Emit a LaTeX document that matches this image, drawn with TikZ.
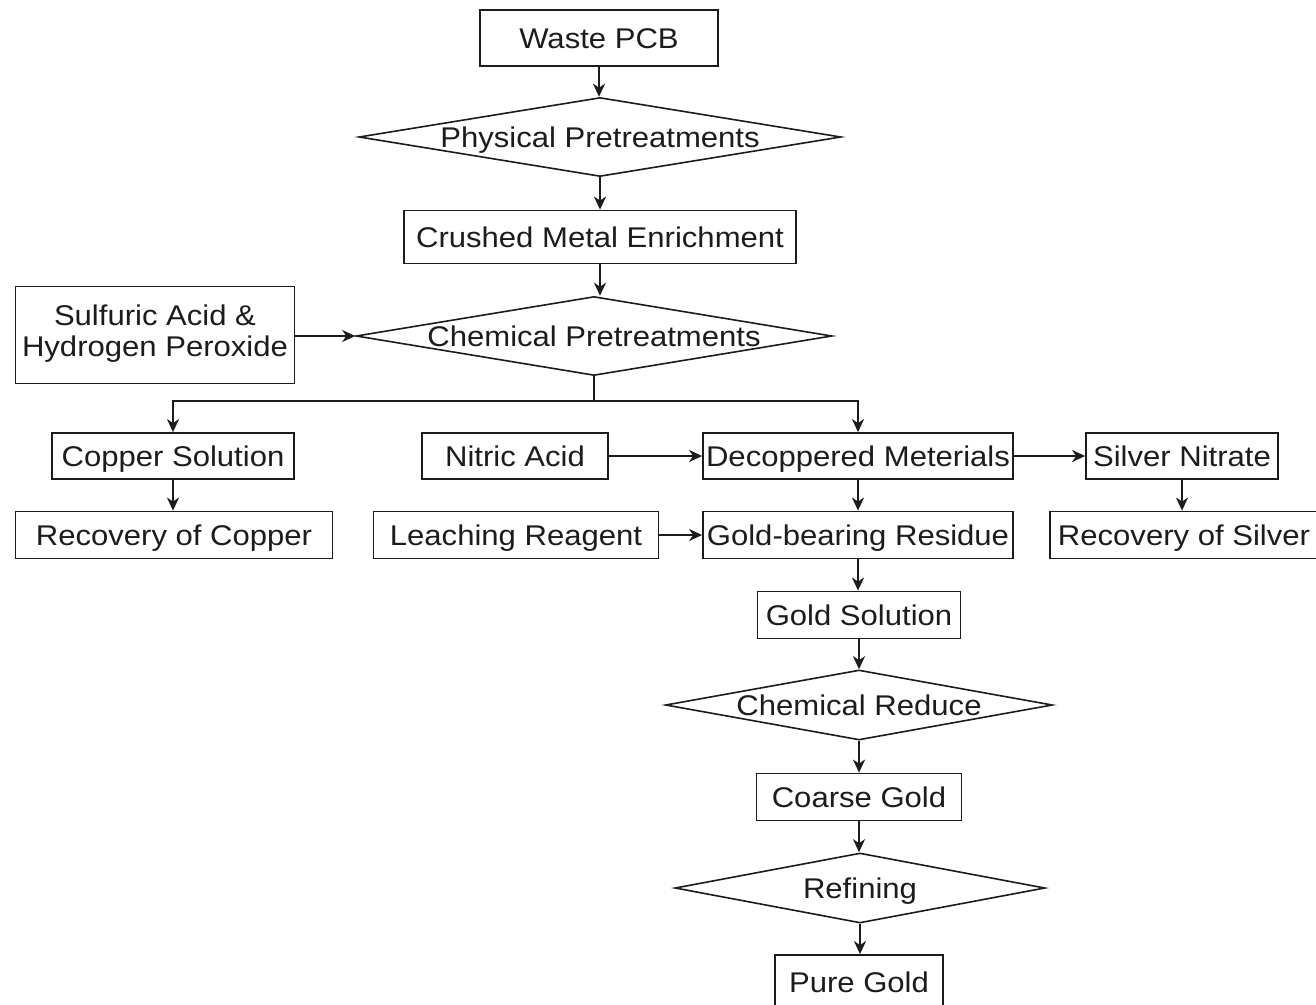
\documentclass[tikz,border=0pt]{standalone}
\usepackage{fontspec}
\setmainfont{Liberation Sans}[FakeStretch=1.09]
\usetikzlibrary{shapes.geometric,arrows.meta}
\definecolor{ink}{HTML}{1C1C1C}
\begin{document}
\begin{tikzpicture}[x=1pt,y=-1pt,
  every node/.style={text=ink},
  box/.style={draw=ink, line width=1.8pt, inner sep=0pt, align=center,
    font=\fontsize{28.5}{32}\selectfont},
  one/.style={text height=20pt, text depth=0pt},
  dia/.style={draw=ink, diamond, aspect=6, line width=1.6pt, inner sep=0pt,
    text height=20pt, text depth=0pt,
    font=\fontsize{28.5}{32}\selectfont},
  arr/.style={draw=ink, line width=1.8pt, -{Stealth[length=13pt,width=12pt,inset=4pt]}},
  con/.style={draw=ink, line width=1.8pt}]
\useasboundingbox (0,0) rectangle (1316,1004);
\fill[white] (0,0) rectangle (1316,1004);

\node[box, one, minimum width=238pt, minimum height=56pt] (waste) at (599,38) {Waste PCB};
\node[dia, minimum width=482pt, minimum height=79pt] (phys) at (600,137) {\makebox[0pt]{Physical Pretreatments}};
\node[box, one, minimum width=392pt, minimum height=53pt] (crush) at (600,237) {Crushed Metal Enrichment};
\node[dia, minimum width=476pt, minimum height=79pt] (chem) at (594,336) {\makebox[0pt]{Chemical Pretreatments}};
\node[box, minimum width=279pt, minimum height=97pt] (sulf) at (155,335) {\raisebox{-5pt}{\begin{tabular}{@{}c@{}}Sulfuric Acid \&\\[-1pt]Hydrogen Peroxide\end{tabular}}};

\node[box, one, minimum width=242pt, minimum height=46pt] (copper) at (173,456) {Copper Solution};
\node[box, one, minimum width=317pt, minimum height=47pt] (reccu) at (174,535) {Recovery of Copper};
\node[box, one, minimum width=186pt, minimum height=46pt] (nitric) at (515,456) {Nitric Acid};
\node[box, one, minimum width=310pt, minimum height=46pt] (decop) at (858,456) {Decoppered Meterials};
\node[box, one, minimum width=192pt, minimum height=46pt] (silver) at (1182,456) {Silver Nitrate};
\node[box, one, minimum width=285pt, minimum height=47pt] (leach) at (516,535) {Leaching Reagent};
\node[box, one, minimum width=310pt, minimum height=47pt] (residue) at (858,535) {Gold-bearing Residue};
\node[box, one, minimum width=268pt, minimum height=47pt] (recag) at (1184,535) {Recovery of Silver};

\node[box, one, minimum width=203pt, minimum height=47pt] (gsol) at (859,615) {Gold Solution};
\node[dia, minimum width=387pt, minimum height=70pt] (reduce) at (859,705) {\makebox[0pt]{Chemical Reduce}};
\node[box, one, minimum width=205pt, minimum height=47pt] (coarse) at (859,797) {Coarse Gold};
\node[dia, minimum width=370pt, minimum height=70pt] (refine) at (860,888) {\makebox[0pt]{Refining}};
\node[box, one, minimum width=168pt, minimum height=54pt] (pure) at (859,982) {Pure Gold};

\draw[arr] (waste.south) -- (waste.south |- phys.north);
\draw[arr] (phys.south) -- (phys.south |- crush.north);
\draw[arr] (crush.south) -- (crush.south |- chem.north);
\draw[arr] (sulf.east |- chem.west) -- (chem.west);
\draw[con] (chem.south) -- ++(0,25) coordinate (br);
\draw[arr] (br) -| (copper.north);
\draw[arr] (br) -| (decop.north);
\draw[arr] (copper.south) -- (copper.south |- reccu.north);
\draw[arr] (nitric.east) -- (decop.west);
\draw[arr] (decop.east) -- (silver.west);
\draw[arr] (silver.south) -- (silver.south |- recag.north);
\draw[arr] (decop.south) -- (residue.north);
\draw[arr] (leach.east) -- (leach.east -| residue.west);
\draw[arr] (residue.south) -- (residue.south |- gsol.north);
\draw[arr] (gsol.south) -- (gsol.south |- reduce.north);
\draw[arr] (reduce.south) -- (reduce.south |- coarse.north);
\draw[arr] (coarse.south) -- (coarse.south |- refine.north);
\draw[arr] (refine.south) -- (refine.south |- pure.north);
\end{tikzpicture}
\end{document}
